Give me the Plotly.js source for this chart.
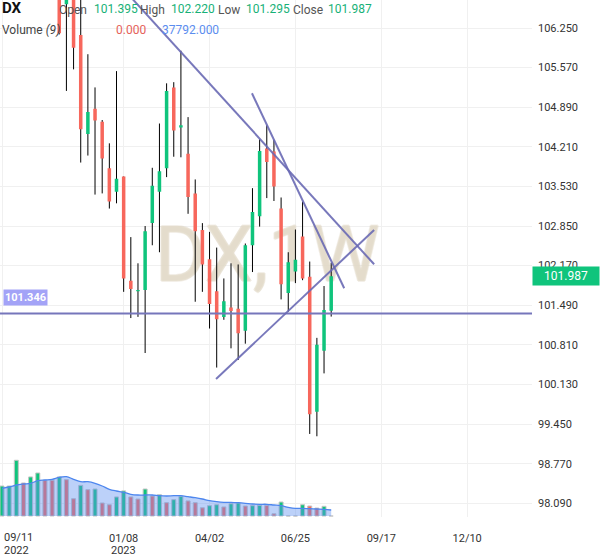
<!DOCTYPE html>
<html>
<head>
<meta charset="utf-8">
<script src="https://cdn.plot.ly/plotly-3.0.1.min.js"></script>
<style>
html,body{margin:0;padding:0;background:#fff;}
#chart{width:600px;height:558px;}
</style>
</head>
<body>
<div id="chart"></div>
<script>
// ---- Weekly candles (week start dates) ----
const weeks = ['2022-09-11','2022-09-18','2022-09-25','2022-10-02','2022-10-09','2022-10-16','2022-10-23','2022-10-30','2022-11-06','2022-11-13','2022-11-20','2022-11-27','2022-12-04','2022-12-11','2022-12-18','2022-12-25','2023-01-01','2023-01-08','2023-01-15','2023-01-22','2023-01-29','2023-02-05','2023-02-12','2023-02-19','2023-02-26','2023-03-05','2023-03-12','2023-03-19','2023-03-26','2023-04-02','2023-04-09','2023-04-16','2023-04-23','2023-04-30','2023-05-07','2023-05-14','2023-05-21','2023-05-28','2023-06-04','2023-06-11','2023-06-18','2023-06-25','2023-07-02','2023-07-09','2023-07-16','2023-07-23','2023-07-30'];
const openP  = [109.0,109.7,113.2,112.0,112.7,113.2,111.9,110.6,110.7,106.66,107.0,106.13,104.43,104.865,104.64,103.84,103.44,103.70,101.91,101.73,101.75,102.90,103.44,103.84,105.23,104.54,104.09,103.41,102.78,102.28,101.73,101.29,101.45,101.43,101.05,102.52,103.02,104.18,104.13,103.15,101.70,102.07,102.67,101.98,99.66,100.71,101.395];
const highP  = [110.2,113.3,114.7,112.7,113.8,113.8,112.3,112.9,110.9,107.2,107.3,106.9,105.80,105.23,104.67,104.27,105.51,103.70,102.66,102.21,102.85,103.85,104.61,105.30,105.32,105.86,104.72,103.65,102.90,102.75,102.48,101.95,102.21,102.19,102.55,103.50,104.34,104.58,104.33,103.34,102.40,102.79,103.27,102.24,100.93,101.82,102.220];
const lowP   = [107.6,109.3,111.5,110.0,112.0,111.6,109.4,110.2,106.14,105.17,105.54,103.94,104.06,103.39,103.41,103.15,103.24,101.72,101.27,101.29,100.67,102.52,102.40,103.69,104.04,104.03,103.06,101.55,101.72,101.09,100.42,101.24,100.75,100.55,100.83,102.06,102.84,103.33,103.28,101.59,101.38,101.87,101.92,99.28,99.24,100.32,101.295];
const closeP = [109.7,113.1,112.0,112.7,113.2,111.9,110.6,110.7,106.16,106.9,105.91,104.51,104.81,104.66,104.01,103.27,103.66,101.95,101.77,101.75,102.76,103.54,103.79,105.17,104.49,104.58,103.35,102.76,102.19,101.51,101.25,101.56,101.39,101.01,102.52,103.09,104.14,103.95,103.53,101.85,102.23,102.27,101.95,99.62,100.81,101.41,101.987];

// ---- Volume and its 9-period average ----
const volume = [189000,189000,351000,208000,246000,271000,225000,225000,246000,229000,109000,193000,166000,170000,82000,71000,120000,158000,120000,107000,170000,126000,134000,84000,103000,124000,95000,84000,52000,65000,71000,57000,77000,82000,63000,65000,67000,67000,14000,88000,0,0,71000,63000,50000,61000,0];
const volUp  = [1,1,1,0,1,1,0,0,1,0,0,1,0,1,0,0,1,1,0,0,1,0,1,0,1,1,0,0,0,1,1,0,1,1,0,1,1,0,0,1,null,null,1,0,0,1,null];
const volMA  = [174500,182700,195300,201600,206000,222400,226800,231200,243800,247600,231200,216100,216100,206000,189000,168200,157500,149300,136700,132300,132300,132300,127900,126000,127900,127900,121600,115300,107100,96400,90100,86300,86300,83800,80000,75600,73700,73700,69300,64900,54800,48500,48500,46000,44100,42200,37792];

// ---- Axis ticks ----
const yTicks = [106.25,105.57,104.89,104.21,103.53,102.85,102.17,101.49,100.81,100.13,99.45,98.77,98.09];
const yTickText = ['106.250','105.570','104.890','104.210','103.530','102.850','102.170','101.490','100.810','100.130','99.450','98.770','98.090'];
const xTicks = ['2022-09-11','2023-01-08','2023-04-02','2023-06-25','2023-09-17','2023-12-10'];
const xTickText = ['','01/08','04/02','06/25','09/17','12/10'];

// ---- Drawings (user trend lines) ----
const trendX0 = ['2023-01-04 21:00','2023-05-13 12:00','2023-04-08 09:00'];
const trendY0 = [106.975,105.129,100.223];
const trendX1 = ['2023-09-10 00:00','2023-08-11 17:00','2023-09-10 00:00'];
const trendY1 = [102.193,101.781,102.782];
const hLevel = 101.346;
const lastClose = 101.987;

const GREEN = '#0fc47c';
const RED = '#f7675c';
const PLOT_W = 532, PLOT_H = 517;
const px = v => v / PLOT_W;
const py = v => 1 - v / PLOT_H;

const priceRange = [97.854, 106.731];
const volRange = [-6300, 3250800];

const traces = [
  { // watermark
    type:'scatter', mode:'text', x:['2023-05-28 12:00'], y:[102.232], text:['DX,1W'],
    textposition:'middle center', xaxis:'x', yaxis:'y', hoverinfo:'skip', cliponaxis:false,
    textfont:{family:'Roboto', size:77, color:'rgba(232,225,210,0.55)',
      shadow:'1px 0 0 rgba(215,203,178,0.55), -1px 0 0 rgba(215,203,178,0.55), 0 1px 0 rgba(215,203,178,0.55), 0 -1px 0 rgba(215,203,178,0.55)'}
  },
  { // volume bars
    type:'bar', x:weeks, y:volume, xaxis:'x', yaxis:'y2', hoverinfo:'skip',
    width: 3.9*24*3600*1000,
    marker:{color: volUp.map(u => u === 1 ? GREEN : (u === 0 ? RED : '#bbbbbb')),
            line:{color:'#c4c4c4', width:1}}
  },
  { // volume MA
    type:'scatter', mode:'lines', x:weeks, y:volMA, xaxis:'x', yaxis:'y2', hoverinfo:'skip',
    line:{color:'#4d86ee', width:1.3, shape:'spline'}, fill:'tozeroy', fillcolor:'rgba(95,145,240,0.42)'
  },
  { // wicks
    type:'ohlc', x:weeks, open:openP, high:highP, low:lowP, close:closeP, xaxis:'x', yaxis:'y3',
    tickwidth:0, hoverinfo:'skip',
    increasing:{line:{color:'#000000', width:1}}, decreasing:{line:{color:'#000000', width:1}}
  },
  { // bodies
    type:'candlestick', x:weeks, open:openP, high:highP, low:lowP, close:closeP, xaxis:'x', yaxis:'y4',
    hoverinfo:'skip',
    increasing:{line:{color:GREEN, width:0}, fillcolor:GREEN},
    decreasing:{line:{color:RED, width:0}, fillcolor:RED}
  }
];

const shapes = [
  {type:'line', xref:'paper', yref:'y', x0:0, x1:1, y0:hLevel, y1:hLevel, line:{color:'#7676bb', width:2}}
];
for (let i = 0; i < trendX0.length; i++) {
  shapes.push({type:'line', xref:'x', yref:'y', x0:trendX0[i], y0:trendY0[i], x1:trendX1[i], y1:trendY1[i],
    line:{color:'rgba(105,105,180,0.9)', width:2}});
}

const ann = (text, x, y, opts) => Object.assign({text:text, xref:'paper', yref:'paper', x:px(x), y:py(y),
  xanchor:'left', yanchor:'middle', showarrow:false, font:{family:'Roboto', size:12, color:'#555'}}, opts||{});

const annotations = [
  ann('<b>DX</b>', 0, 8, {font:{family:'Roboto', size:15, color:'#111'}}),
  ann('Open', 57, 10),
  ann(openP[openP.length-1].toFixed(3), 92, 9, {font:{family:'Roboto', size:12, color:'#17b177'}}),
  ann('High', 138, 10),
  ann(highP[highP.length-1].toFixed(3), 169, 9, {font:{family:'Roboto', size:12, color:'#17b177'}}),
  ann('Low', 216, 10),
  ann(lowP[lowP.length-1].toFixed(3), 244, 9, {font:{family:'Roboto', size:12, color:'#17b177'}}),
  ann('Close', 291, 10),
  ann(closeP[closeP.length-1].toFixed(3), 326, 9, {font:{family:'Roboto', size:12, color:'#17b177'}}),
  ann('Volume <i>(9)</i>', 0, 30, {font:{family:'Roboto', size:12, color:'#444'}}),
  ann(volume[volume.length-1].toFixed(3), 114, 30, {font:{family:'Roboto', size:12, color:'#e5625a'}}),
  ann(volMA[volMA.length-1].toFixed(3), 160, 30, {font:{family:'Roboto', size:12, color:'#5b8def'}}),
  { // level label
    text:'<b>'+hLevel.toFixed(3)+'</b>', xref:'paper', yref:'y', x:px(3), y:hLevel, yshift:16,
    xanchor:'left', yanchor:'middle', showarrow:false, bgcolor:'#a3a3f7', borderpad:1,
    font:{family:'Roboto', size:11, color:'#ffffff'}
  },
  { // last price tag
    text:lastClose.toFixed(3), xref:'paper', yref:'y', x:1, y:lastClose, xanchor:'left', yanchor:'middle',
    showarrow:false, bgcolor:GREEN, width:64, height:16, borderpad:1, align:'center',
    font:{family:'Roboto', size:12, color:'#ffffff'}
  },
  {text:'09/11', xref:'x', yref:'paper', x:xTicks[0], y:0, yshift:-20, xanchor:'left', yanchor:'middle',
   showarrow:false, font:{family:'Roboto', size:11, color:'#333'}},
  {text:'2022', xref:'x', yref:'paper', x:xTicks[0], y:0, yshift:-33, xanchor:'left', yanchor:'middle',
   showarrow:false, font:{family:'Roboto', size:11, color:'#333'}},
  {text:'2023', xref:'x', yref:'paper', x:xTicks[1], y:0, yshift:-33, xanchor:'center', yanchor:'middle',
   showarrow:false, font:{family:'Roboto', size:11, color:'#333'}}
];

const layout = {
  width:600, height:558,
  margin:{l:0, r:68, t:0, b:41, pad:0},
  paper_bgcolor:'#ffffff', plot_bgcolor:'#ffffff',
  showlegend:false,
  font:{family:'Roboto', size:11, color:'#333'},
  xaxis:{type:'date', range:['2022-09-09 01:00','2024-02-11 10:00'], tickmode:'array', tickvals:xTicks, ticktext:xTickText,
    showgrid:true, gridcolor:'#f0f0f0', gridwidth:1, zeroline:false, showline:false, ticks:'',
    tickfont:{family:'Roboto', size:11, color:'#333'}, ticklabelstandoff:13,
    rangeslider:{visible:false}, fixedrange:true},
  yaxis:{side:'right', range:priceRange, tickmode:'array', tickvals:yTicks, ticktext:yTickText,
    showgrid:true, gridcolor:'#f0f0f0', gridwidth:1, zeroline:false, showline:false, ticks:'',
    tickfont:{family:'Roboto', size:11, color:'#333'}, ticklabelstandoff:5, fixedrange:true},
  yaxis2:{overlaying:'y', range:volRange, visible:false, fixedrange:true},
  yaxis3:{overlaying:'y', range:priceRange, visible:false, fixedrange:true},
  yaxis4:{overlaying:'y', range:priceRange, visible:false, fixedrange:true},
  bargap:0, barmode:'overlay',
  shapes:shapes,
  annotations:annotations
};

Plotly.newPlot('chart', traces, layout, {staticPlot:true, displayModeBar:false});
</script>
</body>
</html>
